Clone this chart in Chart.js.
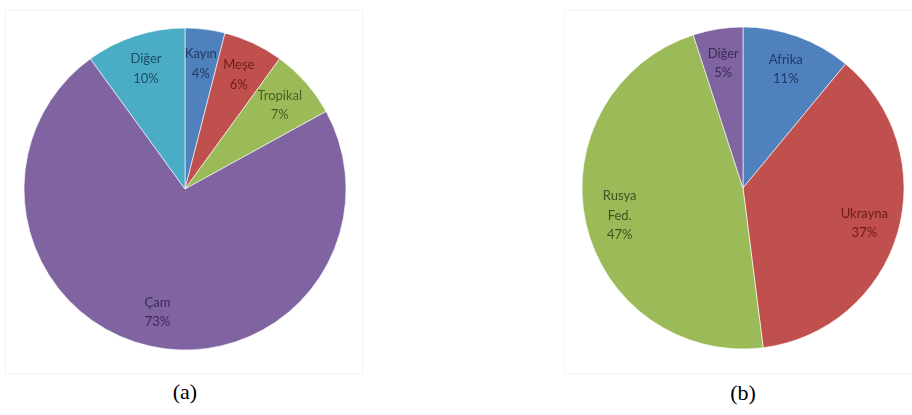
<!DOCTYPE html>
<html>
<head>
<meta charset="utf-8">
<script src="https://cdn.jsdelivr.net/npm/chart.js@4/dist/chart.umd.min.js"></script>
<style>
  body { margin: 0; width: 912px; height: 415px; background: #fff; position: relative; overflow: hidden; }
  .frame { position: absolute; border: 1px solid #f4f4f4; box-sizing: border-box; }
  .pie { position: absolute; width: 340px; height: 340px; }
  .caption { position: absolute; width: 80px; text-align: center; font-family: "Liberation Serif", serif; font-size: 22px; color: #000; }
</style>
</head>
<body>
<div class="frame" style="left:5px; top:10px; width:358px; height:364px;"></div>
<div class="frame" style="left:564px; top:10px; width:360px; height:364px;"></div>
<div class="pie" style="left:15px; top:19px;"><canvas id="pieA" width="340" height="340"></canvas></div>
<div class="pie" style="left:573px; top:18px;"><canvas id="pieB" width="340" height="340"></canvas></div>
<div class="caption" style="left:145px; top:379px;">(a)</div>
<div class="caption" style="left:703px; top:380px;">(b)</div>
<script>
// (a) wood species
var labelsA = ['Kayın', 'Meşe', 'Tropikal', 'Çam', 'Diğer'];
var valuesA = [4, 6, 7, 73, 10];
var colorsA = ['#4F81BD', '#C0504D', '#9BBB59', '#8064A2', '#4BACC6'];
var textA = ['#1F3A68', '#6E1C1A', '#4A5E22', '#3A2A55', '#1C4E66'];

// (b) import sources
var labelsB = ['Afrika', 'Ukrayna', 'Rusya Fed.', 'Diğer'];
var valuesB = [11, 37, 47, 5];
var colorsB = ['#4F81BD', '#C0504D', '#9BBB59', '#8064A2'];
var textB = ['#1F3A68', '#6E1C1A', '#3E5220', '#3A2A55'];

// writes "name / value%" inside each slice
var sliceLabels = {
    id: 'sliceLabels',
    afterDatasetsDraw: function(chart, args, opts) {
        var ctx = chart.ctx;
        var meta = chart.getDatasetMeta(0);
        var data = chart.data.datasets[0].data;
        ctx.save();
        ctx.font = '13px Lato, sans-serif';
        ctx.textAlign = 'center';
        ctx.textBaseline = 'middle';
        meta.data.forEach(function(arc, i) {
            var p = arc.getProps(['x', 'y', 'startAngle', 'endAngle', 'outerRadius'], true);
            var mid = (p.startAngle + p.endAngle) / 2;
            var r = p.outerRadius * 0.785;
            var cx = p.x + Math.cos(mid) * r;
            var cy = p.y + Math.sin(mid) * r;
            var lines = chart.data.labels[i].split(' ').concat([data[i] + '%']);
            var lh = 19.5;
            var y0 = cy - (lines.length - 1) * lh / 2;
            ctx.fillStyle = opts.colors[i];
            lines.forEach(function(t, k) {
                ctx.fillText(t, cx, y0 + k * lh);
            });
        });
        ctx.restore();
    }
};

function makePie(id, labels, values, colors, textColors) {
    var ctx = document.querySelector(id).getContext('2d');
    return new Chart(ctx, {
        type: 'pie',
        data: {
            labels: labels,
            datasets: [{
                data: values,
                backgroundColor: colors,
                borderColor: 'rgba(255, 255, 255, 0.6)',
                borderWidth: 1,
                radius: 161
            }]
        },
        options: {
            responsive: false,
            animation: false,
            layout: { padding: 0 },
            plugins: {
                legend: { display: false },
                tooltip: { enabled: false },
                sliceLabels: { colors: textColors }
            }
        },
        plugins: [sliceLabels]
    });
}

makePie('#pieA', labelsA, valuesA, colorsA, textA);
makePie('#pieB', labelsB, valuesB, colorsB, textB);
</script>
</body>
</html>
